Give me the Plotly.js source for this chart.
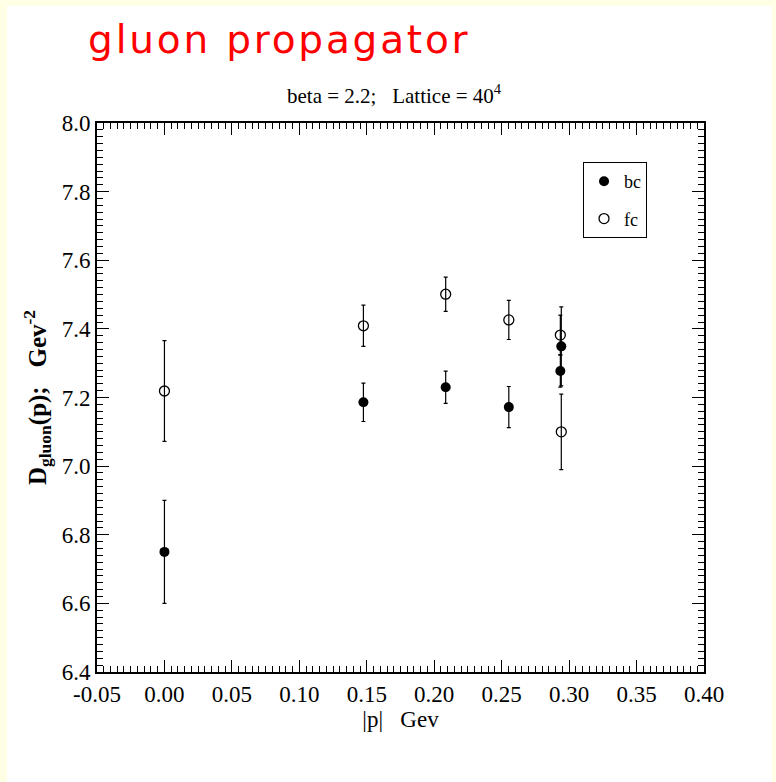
<!DOCTYPE html>
<html>
<head>
<meta charset="utf-8">
<script src="https://cdn.plot.ly/plotly-3.0.1.min.js"></script>
<style>
  html, body { margin: 0; padding: 0; background: #FFFFE5; width: 776px; height: 782px; overflow: hidden; }
  #chart { position: absolute; left: 7px; top: 6px; width: 765px; height: 776px; }
  .gtitle { letter-spacing: 2.8px; }
</style>
</head>
<body>
<div id="chart"></div>
<script>
// momentum |p| (GeV) for each lattice measurement
const momentumBC = [0.0, 0.1475, 0.2085, 0.2553, 0.2942, 0.2935];
const propagatorBC = [6.750, 7.186, 7.230, 7.172, 7.349, 7.277];
const errorBC = [0.150, 0.056, 0.047, 0.060, 0.115, 0.047];

const momentumFC = [0.0, 0.1475, 0.2085, 0.2553, 0.2935, 0.2942];
const propagatorFC = [7.219, 7.409, 7.501, 7.426, 7.382, 7.100];
const errorFC = [0.147, 0.060, 0.050, 0.057, 0.058, 0.110];

const seriesNames = ['bc', 'fc'];

// x tick labels use a plain hyphen for the negative value
const xTickValues = [-0.05, 0.00, 0.05, 0.10, 0.15, 0.20, 0.25, 0.30, 0.35, 0.40];
const xTickLabels = ['-0.05', '0.00', '0.05', '0.10', '0.15', '0.20', '0.25', '0.30', '0.35', '0.40'];
const yTickValues = [6.4, 6.6, 6.8, 7.0, 7.2, 7.4, 7.6, 7.8, 8.0];
const yTickLabels = ['6.4', '6.6', '6.8', '7.0', '7.2', '7.4', '7.6', '7.8', '8.0'];

const serif = 'Liberation Serif, Times New Roman, serif';
const nb = '\u00A0';

const traces = [
  {
    x: momentumBC, y: propagatorBC, name: seriesNames[0], legendgroup: 'g1',
    type: 'scatter', mode: 'markers',
    marker: { symbol: 'circle', size: 10, color: '#000000' },
    error_y: { type: 'data', array: errorBC, visible: true, color: '#000000', thickness: 1.2, width: 2 }
  },
  {
    x: momentumFC, y: propagatorFC, name: seriesNames[1], legendgroup: 'g2',
    type: 'scatter', mode: 'markers',
    marker: { symbol: 'circle-open', size: 10, color: '#000000', line: { width: 1.3, color: '#000000' } },
    error_y: { type: 'data', array: errorFC, visible: true, color: '#000000', thickness: 1.2, width: 2 }
  }
];

const axisCommon = {
  showline: true, linecolor: '#000000', linewidth: 2, mirror: 'ticks',
  ticks: 'inside', ticklen: 12, tickwidth: 1.2, tickcolor: '#000000',
  showgrid: false, zeroline: false,
  tickfont: { family: serif, size: 23, color: '#000000' }
};

const layout = {
  width: 765, height: 776,
  paper_bgcolor: '#FFFFFF', plot_bgcolor: '#FFFFFF',
  margin: { l: 90, r: 68, t: 117, b: 110 },
  showlegend: true,
  legend: {
    x: 0.8007, y: 0.929, xanchor: 'left', yanchor: 'top',
    bgcolor: '#FFFFFF', bordercolor: '#000000', borderwidth: 1,
    font: { family: serif, size: 18, color: '#000000' },
    tracegroupgap: 11, itemwidth: 30
  },
  title: {
    text: 'gluon propagator',
    font: { family: 'DejaVu Sans, sans-serif', size: 39, color: '#FF0000' },
    xref: 'container', yref: 'container',
    x: 0.106, xanchor: 'left', y: 0.957, yanchor: 'middle'
  },
  xaxis: Object.assign({}, axisCommon, {
    range: [-0.05, 0.40], tickmode: 'array', tickvals: xTickValues, ticktext: xTickLabels,
    minor: { dtick: 0.005, tick0: 0, ticks: 'inside', ticklen: 6, tickwidth: 1, tickcolor: '#000000' },
    title: { text: '|p|' + nb + nb + nb + 'Gev', font: { family: serif, size: 23, color: '#000000' }, standoff: 2 }
  }),
  yaxis: Object.assign({}, axisCommon, {
    range: [6.4, 8.0], tickmode: 'array', tickvals: yTickValues, ticktext: yTickLabels,
    minor: { dtick: 0.02, tick0: 6.4, ticks: 'inside', ticklen: 6, tickwidth: 1, tickcolor: '#000000' },
    title: { text: '<b>D<sub>gluon</sub>(p);' + nb + nb + nb + 'Gev<sup>-2</sup></b>', font: { family: serif, size: 25, color: '#000000' }, standoff: 8 }
  }),
  annotations: [
    {
      text: 'beta = 2.2;' + nb + nb + nb + 'Lattice = 40<sup>4</sup>',
      xref: 'paper', yref: 'paper', x: 0.49, y: 1.052,
      xanchor: 'center', yanchor: 'middle', showarrow: false,
      font: { family: serif, size: 21, color: '#000000' }
    }
  ]
};

Plotly.newPlot('chart', traces, layout, { displayModeBar: false, staticPlot: true });
</script>
</body>
</html>
